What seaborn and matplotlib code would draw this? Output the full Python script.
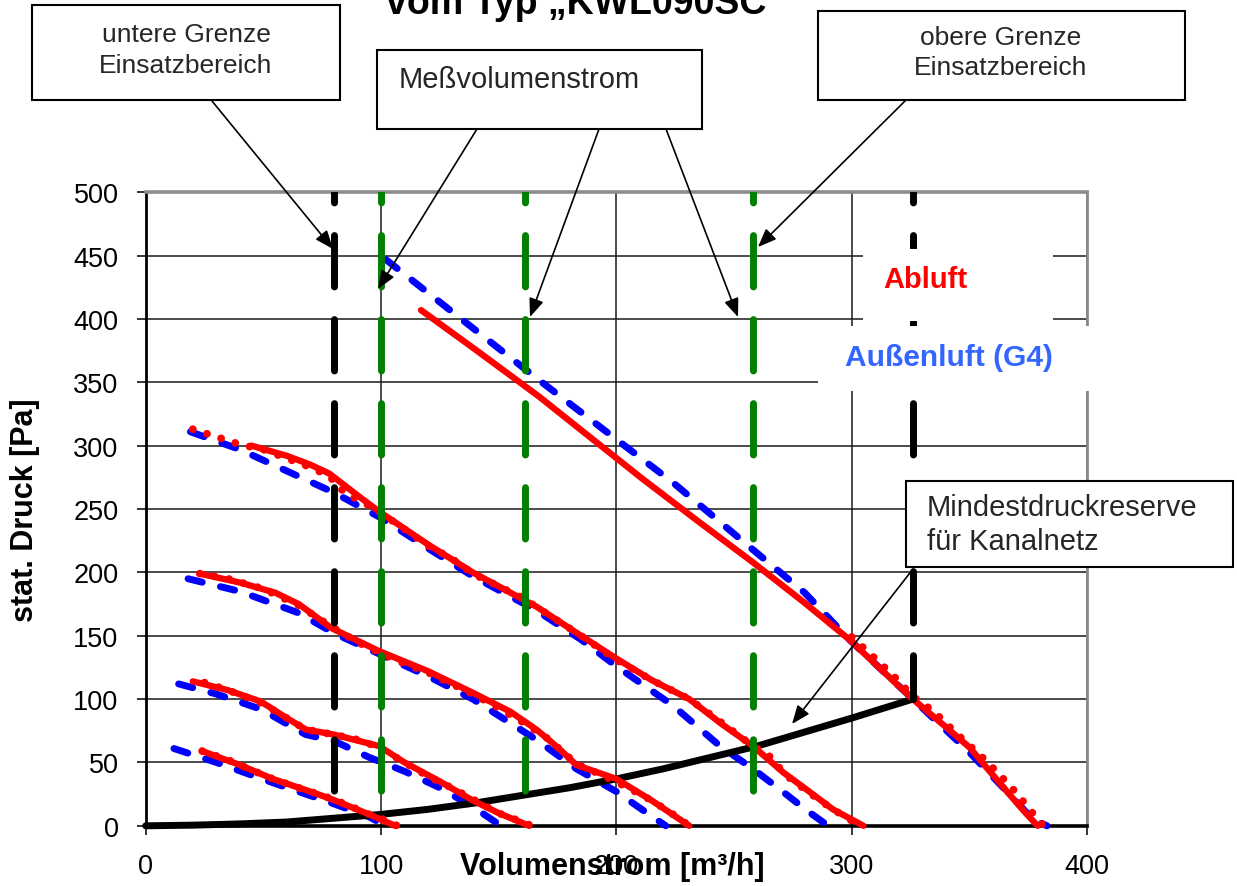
import matplotlib
matplotlib.use("Agg")
import matplotlib.pyplot as plt
import seaborn as sns
import pandas as pd
from matplotlib.patches import Rectangle

# ---------------- data ----------------
x_ticks = [0, 100, 200, 300, 400]
y_ticks = [0, 50, 100, 150, 200, 250, 300, 350, 400, 450, 500]

# Abluft (red, smoothed, solid)
ab1_x = [117, 140, 167, 190, 211, 235, 258, 280, 299, 319, 326, 340, 350, 366, 374, 379]
ab1_y = [407, 376, 339, 305, 274, 240, 208, 176, 147, 112, 100, 78, 62, 27, 10, 0]
ab2_x = [45, 60, 70, 78, 85, 92, 100, 120, 139, 150, 166, 185, 200, 215, 231, 245, 258, 271, 282, 292, 305]
ab2_y = [300, 292, 285, 278, 268, 258, 247, 222, 200, 189, 173, 150, 132, 115, 100, 80, 63, 42, 27, 13, 0]
ab3_x = [23, 40, 55, 65, 79, 99, 120, 139, 155, 166, 175, 183, 200, 215, 231]
ab3_y = [199, 192, 184, 175, 156, 138, 122, 105, 90, 76, 62, 48, 37, 20, 0]
ab4_x = [20, 35, 49, 60, 68, 80, 99, 110, 125, 139, 150, 163]
ab4_y = [114, 107, 98, 85, 76, 72, 63, 50, 35, 20, 10, 0]
ab5_x = [24, 40, 54, 70, 79, 95, 106]
ab5_y = [59, 48, 37, 27, 21, 9, 0]

# Abluft measured (red, dotted)
abm1_x = [300, 310, 319, 326, 335, 345, 355, 362, 370, 376, 381]
abm1_y = [149, 132, 116, 102, 90, 72, 55, 42, 26, 12, 1]
abm2_x = [20, 30, 40, 50, 60, 70, 78, 85, 92, 100, 110, 120, 130, 139, 150, 160, 170, 185,
          200, 215, 231, 245, 258, 265, 272, 282, 292, 300, 304]
abm2_y = [313, 307, 301, 297, 290, 283, 276, 262, 256, 247, 234, 221, 211, 199, 189, 180, 168, 150,
          131, 115, 100, 81, 63, 55, 40, 26, 13, 4, 0]
abm3_x = [23, 35, 50, 65, 79, 90, 99, 110, 120, 130, 139, 150, 160, 170, 183, 195, 205, 215, 225, 231]
abm3_y = [199, 195, 187, 174, 157, 145, 137, 128, 121, 112, 104, 93, 82, 70, 49, 39, 30, 20, 8, 0]
abm4_x = [25, 35, 49, 60, 68, 80, 90, 99, 110, 120, 130, 139, 150, 160, 164]
abm4_y = [113, 107, 97, 85, 76, 72, 68, 62, 50, 39, 30, 21, 10, 3, 0]
abm5_x = [24, 35, 45, 54, 65, 75, 85, 95, 101, 107]
abm5_y = [59, 52, 44, 37, 30, 24, 17, 9, 5, 0]

# Außenluft (G4) (blue, dashed)
au1_x = [102, 130, 167, 200, 224, 258, 280, 299, 326, 349, 366, 377, 383]
au1_y = [447, 406, 352, 305, 271, 218, 184, 147, 100, 60, 27, 5, 0]
au2_x = [19, 40, 60, 80, 100, 120, 139, 166, 185, 200, 224, 244, 258, 270, 281, 290]
au2_y = [311, 297, 280, 263, 243, 219, 197, 170, 147, 126, 95, 63, 45, 28, 12, 0]
au3_x = [18, 40, 65, 80, 100, 120, 139, 166, 183, 200, 210, 221]
au3_y = [195, 185, 168, 152, 135, 118, 100, 68, 45, 27, 14, 0]
au4_x = [14, 30, 49, 68, 80, 95, 110, 125, 139, 151]
au4_y = [112, 104, 92, 72, 67, 54, 43, 30, 15, 0]
au5_x = [12, 30, 54, 79, 95, 102]
au5_y = [61, 50, 34, 18, 7, 0]

# Mindestdruckreserve für Kanalnetz
md_x = [0, 20, 40, 60, 80, 100, 120, 140, 160, 180, 200, 220, 240, 260, 280, 300, 326]
md_y = [0, 0.5, 1.5, 3, 6, 9, 13, 18, 24, 30, 37, 45, 54, 63, 74, 85, 100]

# vertical limit lines
grenze_unten_x = 80
grenze_oben_x = 326
mess_x = [100, 161, 258]
linie_oben_y = 500
linie_unten_y = 25
grenze_oben_unten_y = 100

title_text = "vom Typ \u201eKWL090SC"
xlabel_text = "Volumenstrom [m³/h]"
ylabel_text = "stat. Druck [Pa]"

# ---------------- figure ----------------
W, H = 1237, 887
sns.set_theme(style="white")
plt.rcParams["font.family"] = ["Liberation Sans", "DejaVu Sans"]

fig = plt.figure(figsize=(W / 100, H / 100), dpi=100)
fig.patch.set_facecolor("white")
L, R, T, B = 145.7, 1087.0, 193.3, 826.8
ax = fig.add_axes([L / W, 1 - B / H, (R - L) / W, (B - T) / H])
ax.set_facecolor("white")


def fx(px):
    return px / W


def fy(py):
    return 1 - py / H


def draw(xs, ys, **kw):
    df = pd.DataFrame({"x": xs, "y": ys})
    sns.lineplot(data=df, x="x", y="y", ax=ax, sort=False, estimator=None, **kw)


# blue dashed (Außenluft)
for xs, ys in [(au1_x, au1_y), (au2_x, au2_y), (au3_x, au3_y), (au4_x, au4_y), (au5_x, au5_y)]:
    draw(xs, ys, color="#0000FF", linewidth=5, linestyle=(0, (2.1, 2.7)),
         dash_capstyle="round", solid_capstyle="round", clip_on=False, zorder=3)

# black Mindestdruckreserve
draw(md_x, md_y, color="black", linewidth=5, solid_capstyle="round", clip_on=False, zorder=3.2)

# red solid (Abluft)
for xs, ys in [(ab1_x, ab1_y), (ab2_x, ab2_y), (ab3_x, ab3_y), (ab4_x, ab4_y), (ab5_x, ab5_y)]:
    draw(xs, ys, color="#FF0000", linewidth=4.6, solid_capstyle="round",
         solid_joinstyle="round", clip_on=False, zorder=3.4)

# red dotted (Abluft measured)
for xs, ys in [(abm1_x, abm1_y), (abm2_x, abm2_y), (abm3_x, abm3_y), (abm4_x, abm4_y), (abm5_x, abm5_y)]:
    draw(xs, ys, color="#FF0000", linewidth=5.6, linestyle=(0, (0.01, 1.9)),
         dash_capstyle="round", clip_on=False, zorder=3.5)

# vertical dashed lines
vdash = (5.9, (7.4, 4.7))
draw([grenze_unten_x, grenze_unten_x], [linie_oben_y, linie_unten_y], color="black",
     linewidth=5, linestyle=vdash, dash_capstyle="round", zorder=4)
draw([grenze_oben_x, grenze_oben_x], [linie_oben_y, grenze_oben_unten_y], color="black",
     linewidth=5, linestyle=vdash, dash_capstyle="round", zorder=4)
for mx in mess_x:
    draw([mx, mx], [linie_oben_y, linie_unten_y], color="#008000",
         linewidth=5, linestyle=vdash, dash_capstyle="round", zorder=4)

# axes styling
ax.set_xlim(0, 400)
ax.set_ylim(0, 500)
ax.set_xticks(x_ticks)
ax.set_yticks(y_ticks)
ax.set_xticklabels([str(v) for v in x_ticks])
ax.set_yticklabels([str(v) for v in y_ticks])
ax.grid(True, color="#1a1a1a", linewidth=1.1)
ax.set_axisbelow(True)
ax.tick_params(axis="both", which="major", bottom=True, left=True, direction="out",
               length=6.5, width=1.1, color="black", labelsize=19.5, labelcolor="black", pad=13)
for side, col, lw in [("left", "black", 2.0), ("bottom", "black", 2.6),
                      ("top", "#8c8c8c", 2.6), ("right", "#8c8c8c", 2.0)]:
    ax.spines[side].set_visible(True)
    ax.spines[side].set_color(col)
    ax.spines[side].set_linewidth(lw)

ax.set_xlabel(xlabel_text, fontsize=22, fontweight="bold", color="black")
ax.set_ylabel(ylabel_text, fontsize=22, fontweight="bold", color="black")
ax.xaxis.label.set_va("center")
ax.yaxis.label.set_va("center")
ax.xaxis.set_label_coords((612 - L) / (R - L), (B - 867) / (B - T))
ax.yaxis.set_label_coords((25 - L) / (R - L), 0.5)

# title (cut off at the top)
fig.text(fx(576), fy(14), title_text, ha="center", va="baseline", fontsize=27,
         fontweight="bold", color="black")


# white label boxes for series names
def rect(x0, y0, x1, y1, **kw):
    r = Rectangle((fx(x0), fy(y1)), fx(x1) - fx(x0), fy(y0) - fy(y1),
                  transform=fig.transFigure, **kw)
    fig.add_artist(r)


rect(863, 250, 1053, 322, facecolor="white", edgecolor="none", zorder=5)
rect(818, 327, 1100, 392, facecolor="white", edgecolor="none", zorder=5)
fig.text(fx(925), fy(280), "Abluft", ha="center", va="center", fontsize=21,
         fontweight="bold", color="#FF0000", zorder=6)
fig.text(fx(949), fy(358), "Außenluft (G4)", ha="center", va="center", fontsize=21.5,
         fontweight="bold", color="#3366FF", zorder=6)

# annotation boxes
box_kw = dict(facecolor="white", edgecolor="black", linewidth=1.5, zorder=5)
rect(32, 6, 340, 101, **box_kw)
rect(377, 51, 702, 130, **box_kw)
rect(818, 12, 1185, 101, **box_kw)
rect(906, 482, 1233, 568, **box_kw)

fig.text(fx(186), fy(35), "untere Grenze", ha="center", va="center", fontsize=19, zorder=6)
fig.text(fx(186), fy(66), "Einsatzbereich", ha="center", va="center", fontsize=19, zorder=6)
fig.text(fx(399), fy(80), "Meßvolumenstrom", ha="left", va="center", fontsize=21, zorder=6)
fig.text(fx(1001), fy(38), "obere Grenze", ha="center", va="center", fontsize=19, zorder=6)
fig.text(fx(1001), fy(68), "Einsatzbereich", ha="center", va="center", fontsize=19, zorder=6)
fig.text(fx(927), fy(508), "Mindestdruckreserve", ha="left", va="center", fontsize=21, zorder=6)
fig.text(fx(927), fy(542), "für Kanalnetz", ha="left", va="center", fontsize=21, zorder=6)

# arrows (figure pixel coordinates)
arrows = [((212, 102), (333, 250)),
          ((477, 130), (378, 290)),
          ((599, 130), (530, 318)),
          ((666, 130), (738, 318)),
          ((905, 102), (758, 248)),
          ((913, 570), (792, 725))]
for (sx, sy), (tx, ty) in arrows:
    ax.annotate("", xy=(tx, H - ty), xycoords="figure pixels",
                xytext=(sx, H - sy), textcoords="figure pixels",
                arrowprops=dict(arrowstyle="-|>,head_length=0.8,head_width=0.32",
                                mutation_scale=14, color="black", lw=1.2,
                                shrinkA=0, shrinkB=0),
                zorder=7, annotation_clip=False)

fig.savefig("out.png", dpi=100, facecolor="white")
